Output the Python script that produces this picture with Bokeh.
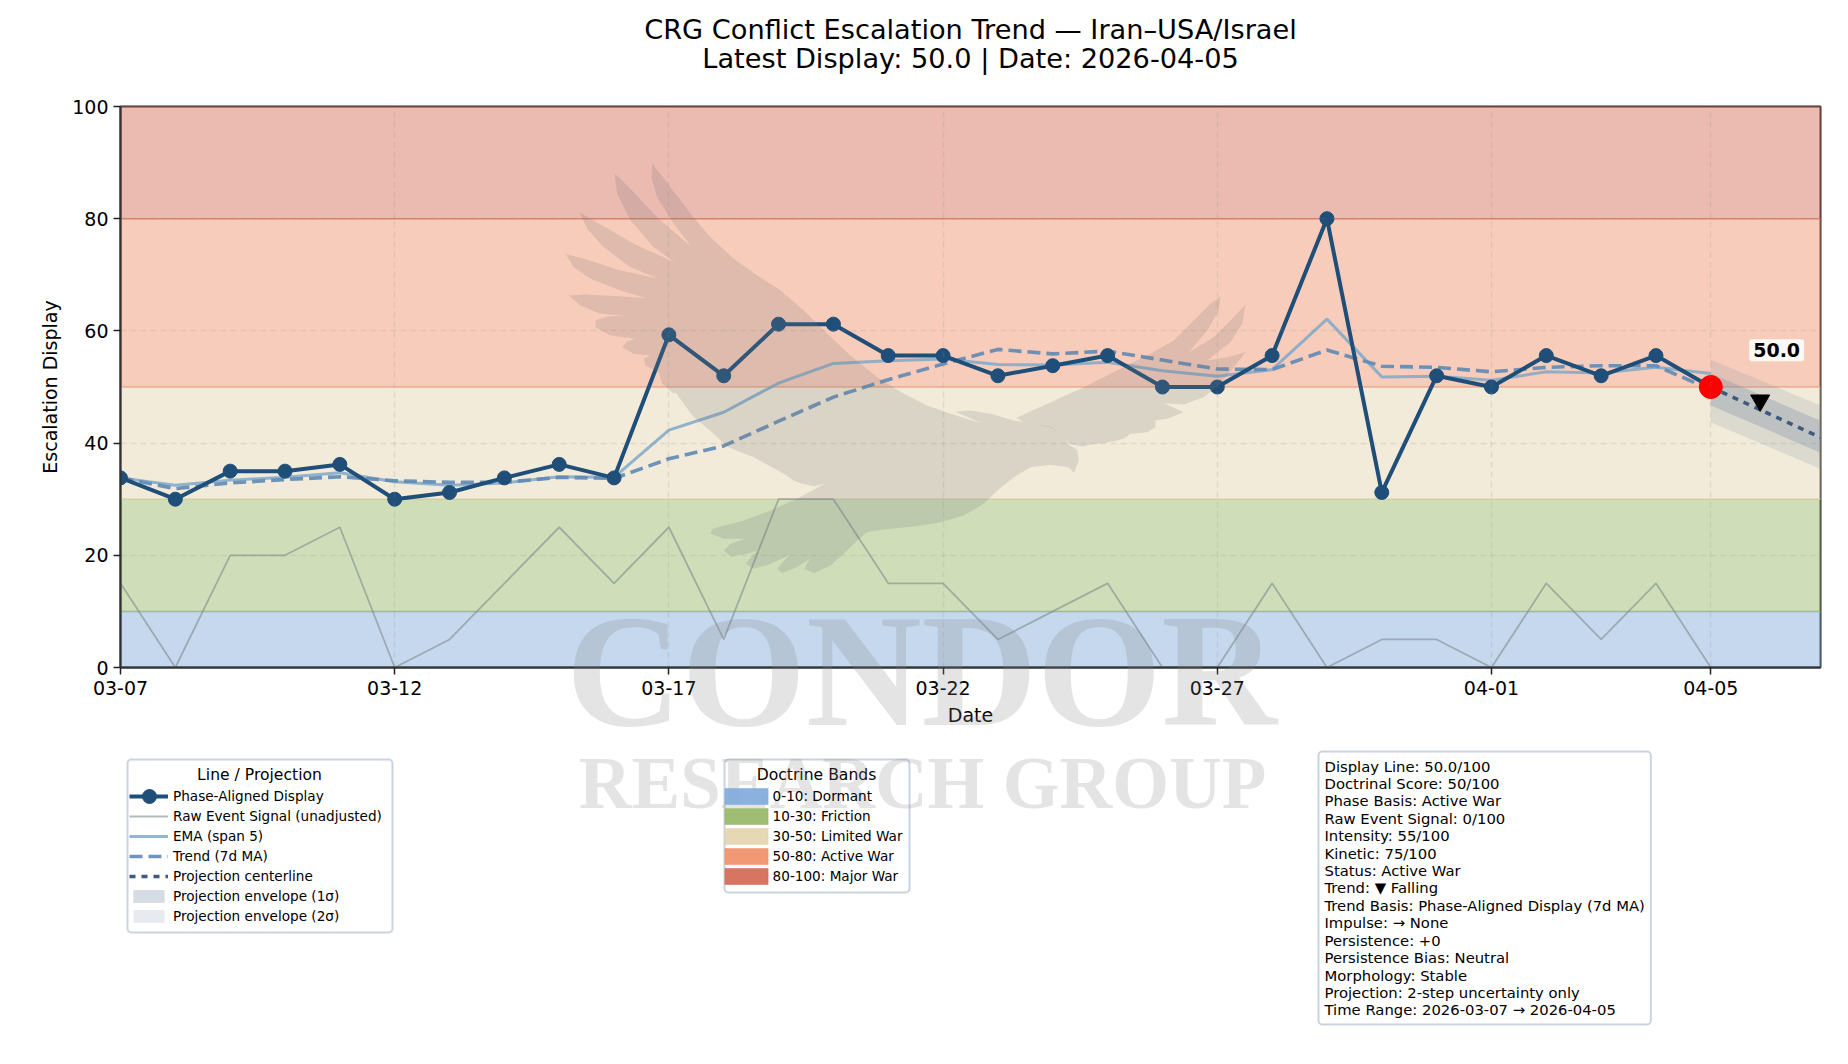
from datetime import datetime, timedelta
import pandas as pd
from bokeh.embed import file_html
from bokeh.resources import INLINE
from bokeh.plotting import figure
from bokeh.layouts import column
from bokeh.models import (Range1d, FixedTicker, DatetimeTickFormatter, Label, Legend, LegendItem,
                          ColumnDataSource, BoxAnnotation)

DATES = pd.date_range("2026-03-07", "2026-04-05", freq="D")
DISPLAY = [33.8, 30, 35, 35, 36.2, 30, 31.2, 33.8, 36.2, 33.8, 59.3, 52, 61.2, 61.2, 55.6, 55.6, 52, 53.8,
           55.6, 50, 50, 55.6, 80, 31.2, 52, 50, 55.6, 52, 55.6, 50]
RAW = [15, 0, 20, 20, 25, 0, 5, 15, 25, 15, 25, 5, 30, 30, 15, 15, 5, 10, 15, 0, 0, 15, 0, 5, 5, 0, 15, 5, 15, 0]
EMA = [33.8, 32.5, 33.4, 33.9, 34.7, 33.1, 32.5, 32.9, 34, 33.9, 42.3, 45.5, 50.7, 54.2, 54.7, 55, 54, 53.9,
       54.4, 52.9, 51.9, 53.1, 62.1, 51.8, 51.9, 51.2, 52.7, 52.5, 53.5, 52.4]
TREND = [33.8, 31.9, 32.9, 33.5, 34, 33.3, 33, 33, 33.9, 33.7, 37.2, 39.5, 43.9, 48.2, 51.3, 54.1, 56.7, 55.9,
         56.4, 54.8, 53.2, 53.1, 56.6, 53.7, 53.5, 52.7, 53.5, 53.8, 53.8, 49.5]
PROJ_DATES = pd.date_range("2026-04-05", "2026-04-07", freq="D")
PROJ = [50, 45.5, 41]
P1_HI = [52.4, 48.2, 44]
P1_LO = [46.7, 42.5, 38.3]
P2_HI = [54.85, 50.8, 46.7]
P2_LO = [43.7, 39.55, 35.4]
BAND_LOW = [0, 10, 30, 50, 80]
BAND_HIGH = [10, 30, 50, 80, 100]
BAND_NAMES = ["0-10: Dormant", "10-30: Friction", "30-50: Limited War", "50-80: Active War", "80-100: Major War"]
BAND_COLORS = ["#7ea9da", "#95b664", "#e3d3ad", "#f08e66", "#d36652"]
TICK_LABEL_DATES = ["2026-03-07", "2026-03-12", "2026-03-17", "2026-03-22", "2026-03-27", "2026-04-01", "2026-04-05"]
Y_TICKS = [0, 20, 40, 60, 80, 100]
LATEST = 50.0
TREND_MARK_VALUE = 47.6
TITLE_LINES = ["CRG Conflict Escalation Trend \u2014 Iran\u2013USA/Israel", "Latest Display: 50.0 | Date: 2026-04-05"]
INFO = ["Display Line: 50.0/100", "Doctrinal Score: 50/100", "Phase Basis: Active War", "Raw Event Signal: 0/100",
        "Intensity: 55/100", "Kinetic: 75/100", "Status: Active War", "Trend: \u25bc Falling",
        "Trend Basis: Phase-Aligned Display (7d MA)", "Impulse: \u2192 None", "Persistence: +0",
        "Persistence Bias: Neutral", "Morphology: Stable", "Projection: 2-step uncertainty only",
        "Time Range: 2026-03-07 \u2192 2026-04-05"]

# watermark outline, traced in page pixels: (origin x, origin y, [crop points at 3x])
WING_BODY = [
 (550,150,[(305,38),(360,110),(420,190),(480,260),(550,325),(620,375),(690,420),(760,480),(830,550),(900,615),(980,680),(1060,730),(1130,765),(1200,790)]),
 (650,350,[(990,218),(960,203),(915,184),(960,180),(1020,190),(1090,210),(1150,220),(1200,228),(1235,255),(1255,283),(1280,298),(1285,330),(1270,367),(1255,350),(1200,343),(1140,350),(1090,380),(1040,420),(1000,460),(940,495),(870,515),(790,528),(700,537),(650,545),(620,570),(580,610),(540,645),(490,668),(462,655),(478,625),(440,650),(395,668),(380,655),(415,615),(360,640),(310,655),(285,640),(310,610),(335,597),(290,610),(240,618),(220,600),(240,580),(285,565),(220,565),(180,550),(185,535),(280,510),(360,480),(440,445),(525,398),(490,407),(450,398),(430,390),(400,370),(345,340),(310,320),(270,305),(225,285),(190,250),(160,225),(125,195),(100,160),(75,125)]),
 (550,150,[(370,730),(335,700),(325,665),(285,645),(280,625),(300,615),(250,610),(215,590),(230,572),(255,565),(180,555),(135,530),(135,510),(170,498),(225,495),(150,490),(90,465),(55,435),(100,432),(200,437),(287,443),(210,420),(120,385),(70,350),(45,310),(100,325),(210,360),(325,385),(240,350),(160,290),(110,235),(88,187),(130,210),(250,280),(372,335),(310,290),(240,210),(200,130),(192,68),(230,105),(330,210),(422,287),(370,220),(320,140),(303,80)]),
]
WING_RIGHT = [
 (1000,280,[(48,412),(250,320),(360,265),(450,220),(520,180),(580,120),(630,70),(660,48),(655,90),(620,150),(565,215),(640,170),(690,120),(735,72),(725,130),(690,185),(620,240),(680,230),(735,215),(700,260),(660,310),(610,350),(550,372),(490,368),(550,395),(500,415),(465,420),(465,440),(440,455),(390,460),(370,475),(310,488),(280,490),(245,498),(205,490),(185,465),(150,440),(100,430),(70,425)]),
]


def to_page(parts):
    xs, ys = [], []
    for ox, oy, pts in parts:
        for zx, zy in pts:
            xs.append(ox + zx / 3)
            ys.append(oy + zy / 3)
    return xs, ys


X_START = datetime(2026, 3, 7)
X_END = datetime(2026, 4, 7)
FONT = "DejaVu Sans"
W, H = 1848, 1064
FRAME_L, FRAME_R, FRAME_T, FRAME_B = 120, 1820, 106, 667

STYLE_RAW = dict(line_color="#7f8c8d", line_alpha=0.6, line_width=1.8)
STYLE_EMA = dict(line_color="#7fa8c9", line_alpha=0.85, line_width=3)
STYLE_TREND = dict(line_color="#5f89b5", line_alpha=0.9, line_width=3.6, line_dash="13 6")
STYLE_PROJ = dict(line_color="#3f5a7c", line_width=3.6, line_dash="6 6")
STYLE_DISP = dict(line_color="#1f4e79", line_width=4)
STYLE_MARK = dict(size=14, fill_color="#1f4e79", line_color="#1f4e79")
STYLE_P1 = dict(fill_color="#788ca2", fill_alpha=0.30)
STYLE_P2 = dict(fill_color="#788ca2", fill_alpha=0.18)

p = figure(width=W, height=H, output_backend="svg", toolbar_location=None,
           x_axis_type="datetime", x_range=Range1d(X_START, X_END), y_range=Range1d(0, 100),
           min_border_left=FRAME_L, min_border_right=W - FRAME_R, min_border_top=FRAME_T,
           min_border_bottom=H - FRAME_B, x_axis_label="Date", y_axis_label="Escalation Display")
p.outline_line_color = "#333333"
p.outline_line_width = 2
p.outline_line_alpha = 1

ticks = [pd.Timestamp(d).timestamp() * 1000 for d in TICK_LABEL_DATES]
p.xaxis.ticker = FixedTicker(ticks=ticks)
p.xaxis.formatter = DatetimeTickFormatter(days="%m-%d", months="%m-%d", hours="%m-%d", years="%m-%d",
                                          context=None)
p.yaxis.ticker = FixedTicker(ticks=Y_TICKS)
for ax in (p.xaxis, p.yaxis):
    ax.axis_label_text_font = FONT
    ax.axis_label_text_font_size = "19px"
    ax.axis_label_text_font_style = "normal"
    ax.axis_label_text_color = "#000000"
    ax.major_label_text_font = FONT
    ax.major_label_text_font_size = "19px"
    ax.major_label_text_color = "#000000"
    ax.minor_tick_line_color = None
    ax.major_tick_out = 7
    ax.major_tick_in = 0
    ax.major_tick_line_width = 1.5
    ax.major_tick_line_color = "#222222"
    ax.axis_line_color = "#333333"
    ax.axis_line_width = 2
p.xaxis.major_label_standoff = 6
p.yaxis.major_label_standoff = 5
p.xaxis.axis_label_standoff = 6
p.yaxis.axis_label_standoff = 8

for g in (p.xgrid, p.ygrid):
    g.grid_line_color = "#888888"
    g.grid_line_alpha = 0.18
    g.grid_line_dash = "6 4"
    g.grid_line_width = 1.5
    g.level = "glyph"

band_src = ColumnDataSource(dict(left=[X_START] * 5, right=[X_END] * 5, bottom=BAND_LOW, top=BAND_HIGH,
                                 color=BAND_COLORS))
p.quad(left="left", right="right", bottom="bottom", top="top", source=band_src, fill_color="color",
       fill_alpha=0.45, line_color="color", line_alpha=0.5, line_width=1.5, level="image")

p.varea(PROJ_DATES, P2_LO, P2_HI, **STYLE_P2)
p.varea(PROJ_DATES, P1_LO, P1_HI, **STYLE_P1)
p.line(DATES, RAW, **STYLE_RAW)
p.line(DATES, EMA, **STYLE_EMA)
p.line(DATES, TREND, **STYLE_TREND)
p.line(PROJ_DATES, PROJ, **STYLE_PROJ)
p.line(DATES, DISPLAY, **STYLE_DISP)
p.scatter(DATES, DISPLAY, **STYLE_MARK)
p.scatter([DATES[-1]], [LATEST], size=23, fill_color="#ff0000", line_color="#ff0000")
p.scatter([DATES[-1] + timedelta(days=0.9)], [TREND_MARK_VALUE], marker="inverted_triangle", size=19,
          fill_color="#000000", line_color="#000000")

p.add_layout(Label(x=DATES[-1] + timedelta(days=1.2), y=56.55, text=f"{LATEST:.1f}", text_font=FONT,
                   text_font_size="19px", text_font_style="bold", text_color="#000000",
                   text_align="center", text_baseline="middle", background_fill_color="#ffffff",
                   background_fill_alpha=0.85, padding=4, border_radius=3))

# page-tall overlay figure: its range is in page pixels (the column aligns its frame with the chart's)
o = figure(width=W, height=H, output_backend="svg", toolbar_location=None,
           x_range=Range1d(FRAME_L, FRAME_R), y_range=Range1d(H, 0), x_axis_location=None, y_axis_location=None,
           min_border=0, min_border_left=0, min_border_right=0, min_border_top=0, min_border_bottom=0,
           background_fill_color=None, border_fill_color=None, outline_line_color=None,
           margin=(-H, 0, 0, 0))
o.grid.visible = False

for line, y in zip(TITLE_LINES, (29, 58)):
    o.add_layout(Label(x=(FRAME_L + FRAME_R) / 2, y=y, text=line, text_font=FONT, text_font_size="27.2px",
                       text_color="#000000", text_align="center", text_baseline="middle"))

# legend handles sit outside the visible range
OFF_X, OFF_Y = [-500, -400], [-500, -500]
h_disp = o.line(OFF_X, OFF_Y, **STYLE_DISP)
h_raw = o.line(OFF_X, OFF_Y, **STYLE_RAW)
h_ema = o.line(OFF_X, OFF_Y, **STYLE_EMA)
h_trend = o.line(OFF_X, OFF_Y, **STYLE_TREND)
h_proj = o.line(OFF_X, OFF_Y, **STYLE_PROJ)
h_p1 = o.quad(left=[-500], right=[-400], bottom=[-500], top=[-400], line_color=None, **STYLE_P1)
h_p2 = o.quad(left=[-500], right=[-400], bottom=[-500], top=[-400], line_color=None, **STYLE_P2)
h_bands = [o.quad(left=[-500], right=[-400], bottom=[-500], top=[-400], fill_color=c, fill_alpha=0.9,
                  line_color=c, line_alpha=0.5) for c in BAND_COLORS]

box_kw = dict(fill_color="#ffffff", fill_alpha=0.9, line_color="#c9d4e0", line_width=2, line_alpha=1,
              border_radius=4, level="annotation")
o.add_layout(BoxAnnotation(left=127, right=392, top=759, bottom=932, **box_kw))
o.add_layout(BoxAnnotation(left=724, right=909, top=759, bottom=892, **box_kw))
for txt, cx in (("Line / Projection", 259), ("Doctrine Bands", 816)):
    o.add_layout(Label(x=cx, y=774, text=txt, text_font=FONT, text_font_size="15.6px", text_color="#000000",
                       text_align="center", text_baseline="middle"))

leg_kw = dict(border_line_color=None, background_fill_alpha=0, label_text_font=FONT,
              label_text_font_size="13.6px", label_text_color="#000000", orientation="vertical", margin=0,
              padding=0, label_height=16)
leg1 = Legend(items=[LegendItem(label="Phase-Aligned Display", renderers=[h_disp]),
                     LegendItem(label="Raw Event Signal (unadjusted)", renderers=[h_raw]),
                     LegendItem(label="EMA (span 5)", renderers=[h_ema]),
                     LegendItem(label="Trend (7d MA)", renderers=[h_trend]),
                     LegendItem(label="Projection centerline", renderers=[h_proj]),
                     LegendItem(label="Projection envelope (1\u03c3)", renderers=[h_p1]),
                     LegendItem(label="Projection envelope (2\u03c3)", renderers=[h_p2])],
              location=(129 - FRAME_L, H - 924), glyph_width=39, glyph_height=16, spacing=4,
              label_standoff=5, **leg_kw)
leg2 = Legend(items=[LegendItem(label=n, renderers=[r]) for n, r in zip(BAND_NAMES, h_bands)],
              location=(718.6 - FRAME_L, H - 886), glyph_width=54, glyph_height=20, spacing=0,
              label_standoff=-2, **leg_kw)
o.add_layout(leg1)
o.add_layout(leg2)
# the phase-aligned handle carries the series' full-size marker
o.scatter([149], [796], level="overlay", **STYLE_MARK)

o.add_layout(Label(x=1318, y=751, text="\n".join(INFO),
                   text_font=FONT, text_font_size="14.8px", text_color="#000000", text_align="left",
                   text_baseline="top", text_line_height=1.025, background_fill_color="#ffffff",
                   border_line_color="#c9d4e0", border_line_width=2, padding=6, border_radius=4))

# watermark
for part in (WING_BODY, WING_RIGHT):
    xs, ys = to_page(part)
    o.patch(xs, ys, fill_color="#777777", fill_alpha=0.2, line_color=None, level="overlay")
o.add_layout(Label(x=921, y=670, text="CONDOR",
                   text_font="Liberation Serif", text_font_size="160px", text_font_style="bold",
                   text_color="#858585", text_alpha=0.22, text_align="center", text_baseline="middle",
                   level="overlay"))
o.add_layout(Label(x=922, y=783, text="RESEARCH GROUP",
                   text_font="Liberation Serif", text_font_size="73px", text_font_style="bold",
                   text_color="#858585", text_alpha=0.22, text_align="center", text_baseline="middle",
                   level="overlay"))

root = column(p, o, spacing=0)
open("out.html", "w").write(file_html(root, INLINE))
